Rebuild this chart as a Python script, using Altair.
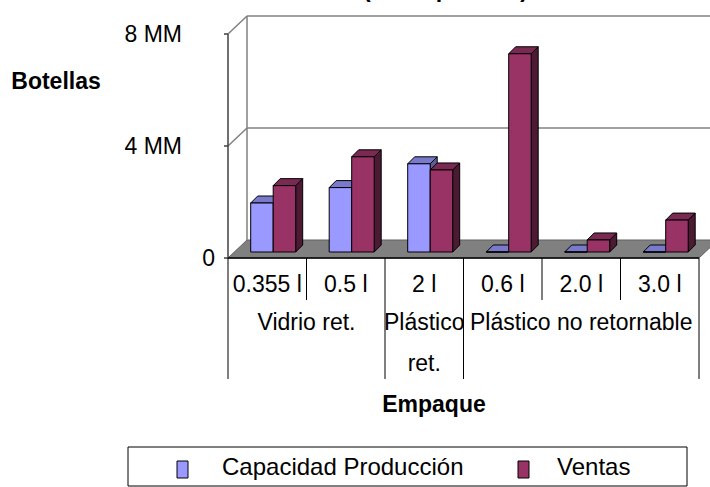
import altair as alt
import pandas as pd

# ---- data (millions of bottles) ----
sizes = ["0.355 l", "0.5 l", "2 l", "0.6 l", "2.0 l", "3.0 l"]
group_lines = [["Vidrio ret."], ["Plástico", "ret."], ["Plástico no retornable"]]
group_start = [0, 2, 3]
group_end = [2, 3, 6]
series = ["Capacidad Producción", "Ventas"]
capacidad = [1.75, 2.30, 3.15, 0.0, 0.0, 0.0]
ventas = [2.37, 3.40, 2.93, 7.08, 0.43, 1.14]
y_ticks = [0, 4, 8]
y_tick_labels = ["0", "4 MM", "8 MM"]

# ---- styling ----
FRONT = ["#9999FF", "#993366"]
TOP = ["#7A7ACC", "#7A2952"]
SIDE = ["#5C5C99", "#4D1A33"]
FONT = "Liberation Sans"
FS = 23

# ---- layout (pixels) ----
W, H = 710, 487
X0, Y0 = 228, 258          # front-left corner of the floor
PX_X, PX_Y = 78.5, 28.0    # px per category, px per million
WALL_DX, WALL_DY = 19, 18  # depth of the box
BAR_SHIFT = 6              # bars stand this far into the box
BAR_DEPTH = 7
BAR_W = 22.5
GROUP_PAD = 16.7


def ux(px):
    return px / PX_X


def uy(px):
    return px / PX_Y


xs = alt.Scale(domain=[-X0 / PX_X, (W - X0) / PX_X], nice=False, zero=False)
ys = alt.Scale(domain=[-(H - Y0) / PX_Y, Y0 / PX_Y], nice=False, zero=False)


def X(f):
    return alt.X(f, type="quantitative", scale=xs, axis=None, stack=None)


def X2(f):
    return alt.X2(f)


def Y(f):
    return alt.Y(f, type="quantitative", scale=ys, axis=None, stack=None)


def Y2(f):
    return alt.Y2(f)


n = len(sizes)
wx, wy = ux(WALL_DX), uy(WALL_DY)

# ---- bar geometry tables ----
front_rows, top_rows, side_rows = [], [], []
for s, vals in enumerate([capacidad, ventas]):
    for i, v in enumerate(vals):
        bid = f"{s}-{i}"
        x0 = i + ux(BAR_SHIFT + GROUP_PAD) + s * ux(BAR_W)
        x1 = x0 + ux(BAR_W)
        yb = uy(BAR_SHIFT)
        yt = yb + v
        dx, dy = ux(BAR_DEPTH), uy(BAR_DEPTH)
        front_rows.append(dict(s=s, id=bid, x0=x0, x1=x1, yb=yb, yt=yt))
        top_rows += [dict(s=s, id=bid, y=yt, xa=x0, xb=x1),
                     dict(s=s, id=bid, y=yt + dy, xa=x0 + dx, xb=x1 + dx)]
        side_rows += [dict(s=s, id=bid, x=x1, ya=yt, yb=yb),
                      dict(s=s, id=bid, x=x1 + dx, ya=yt + dy, yb=yb + dy)]
front_df = pd.DataFrame(front_rows)
top_df = pd.DataFrame(top_rows)
side_df = pd.DataFrame(side_rows)

layers = []

# floor
floor_df = pd.DataFrame([dict(y=0, xa=0, xb=n), dict(y=wy, xa=wx, xb=n + wx)])
layers.append(alt.Chart(floor_df).mark_area(orient="horizontal", fill="#808080",
                                            stroke="#606060", strokeWidth=1)
              .encode(y=Y("y"), x=X("xa"), x2=X2("xb")))

# back wall and gridlines
seg = []
for t in y_ticks:
    if t > 0:
        seg.append(dict(xa=wx, xb=(W - X0) / PX_X + 1, ya=t + wy, yb=t + wy))
        seg.append(dict(xa=0, xb=wx, ya=t, yb=t + wy))
seg.append(dict(xa=wx, xb=wx, ya=wy, yb=max(y_ticks) + wy))
layers.append(alt.Chart(pd.DataFrame(seg)).mark_rule(color="#808080", strokeWidth=1.5)
              .encode(x=X("xa"), x2=X2("xb"), y=Y("ya"), y2=Y2("yb")))

# value axis line and ticks
layers.append(alt.Chart(pd.DataFrame([dict(a=0, b=max(y_ticks))])).mark_rule(color="#404040", strokeWidth=1.5)
              .encode(x=X("a"), y=Y("a"), y2=Y2("b")))
layers.append(alt.Chart(pd.DataFrame(dict(t=y_ticks))).mark_rule(color="#404040", strokeWidth=1.5)
              .encode(x=X("t0:Q"), x2=X2("t1:Q"), y=Y("t"))
              .transform_calculate(t0=str(-ux(4)), t1="0"))

# bars: back faces first, blue series before red
for s in range(2):
    layers.append(alt.Chart(side_df).transform_filter(f"datum.s == {s}")
                  .mark_area(orient="vertical", fill=SIDE[s], stroke="black", strokeWidth=1)
                  .encode(x=X("x"), y=Y("ya"), y2=Y2("yb"), detail="id:N"))
    layers.append(alt.Chart(top_df).transform_filter(f"datum.s == {s}")
                  .mark_area(orient="horizontal", fill=TOP[s], stroke="black", strokeWidth=1)
                  .encode(y=Y("y"), x=X("xa"), x2=X2("xb"), detail="id:N"))
    layers.append(alt.Chart(front_df).transform_filter(f"datum.s == {s}")
                  .mark_rect(fill=FRONT[s], stroke="black", strokeWidth=1)
                  .encode(x=X("x0"), x2=X2("x1"), y=Y("yb"), y2=Y2("yt")))

# category axis line and dividers
ROW1_BOTTOM = -uy(300 - Y0)
ROW2_BOTTOM = -uy(379 - Y0)
long_div = sorted(set(group_start + group_end))
div_df = pd.DataFrame([dict(u=k, ya=0, yb=ROW2_BOTTOM if k in long_div else ROW1_BOTTOM)
                       for k in range(n + 1)])
layers.append(alt.Chart(pd.DataFrame([dict(a=0, b=n, y=0)])).mark_rule(color="black", strokeWidth=1.5)
              .encode(x=X("a"), x2=X2("b"), y=Y("y")))
layers.append(alt.Chart(div_df).mark_rule(color="black", strokeWidth=1)
              .encode(x=X("u"), y=Y("ya"), y2=Y2("yb")))

# category labels
cat_df = pd.DataFrame(dict(label=sizes, c=[i + 0.5 for i in range(n)]))
layers.append(alt.Chart(cat_df).mark_text(font=FONT, fontSize=FS, align="center", baseline="alphabetic")
              .encode(x=X("c"), y=alt.value(292), text="label:N"))
grp_df = pd.DataFrame(dict(label=group_lines,
                           c=[(a + b) / 2 for a, b in zip(group_start, group_end)]))
layers.append(alt.Chart(grp_df).mark_text(font=FONT, fontSize=FS, align="center",
                                          baseline="alphabetic", lineHeight=41)
              .encode(x=X("c"), y=alt.value(330), text="label"))

# value labels
tick_df = pd.DataFrame(dict(t=y_ticks, label=y_tick_labels))
layers.append(alt.Chart(tick_df).transform_filter("datum.t > 0")
              .mark_text(font=FONT, fontSize=FS, align="right", baseline="alphabetic", dy=8)
              .encode(x=alt.value(182), y=Y("t"), text="label:N"))
layers.append(alt.Chart(tick_df).transform_filter("datum.t == 0")
              .mark_text(font=FONT, fontSize=FS, align="right", baseline="alphabetic", dy=8)
              .encode(x=alt.value(215), y=Y("t"), text="label:N"))

# titles
one = pd.DataFrame([dict(a=0)])
layers.append(alt.Chart(one).mark_text(text="Botellas", font=FONT, fontSize=FS, fontWeight="bold",
                                       align="center", baseline="alphabetic")
              .encode(x=alt.value(56), y=alt.value(89)))
layers.append(alt.Chart(one).mark_text(text="Empaque", font=FONT, fontSize=FS, fontWeight="bold",
                                       align="center", baseline="alphabetic")
              .encode(x=alt.value(434), y=alt.value(412)))
layers.append(alt.Chart(one).mark_text(text="(miles por año)", font=FONT, fontSize=FS, fontWeight="bold",
                                       align="left", baseline="alphabetic")
              .encode(x=alt.value(363), y=alt.value(-3)))

# legend
layers.append(alt.Chart(one).mark_rect(fill="white", stroke="black", strokeWidth=1)
              .encode(x=alt.value(128), x2=alt.value(687), y=alt.value(447), y2=alt.value(486)))
leg_df = pd.DataFrame(dict(name=series, color=FRONT, k=[0, 1]))
leg = alt.Chart(leg_df).transform_calculate(
    sx="177 + datum.k * 341", tx="222 + datum.k * 335")
layers.append(leg.mark_rect(stroke="black", strokeWidth=1)
              .encode(x=alt.X("sx:Q", scale=None), x2=alt.X2("sx2:Q"),
                      y=alt.value(461), y2=alt.value(478),
                      fill=alt.Fill("color:N", scale=None))
              .transform_calculate(sx2="datum.sx + 11"))
layers.append(leg.mark_text(font=FONT, fontSize=24, align="left", baseline="alphabetic")
              .encode(x=alt.X("tx:Q", scale=None), y=alt.value(475), text="name:N"))

chart = alt.layer(*layers).properties(
    width=W, height=H, padding=0,
    autosize=alt.AutoSizeParams(type="none"),
).configure_view(strokeWidth=0)

chart.save("out.html", embed_options={"renderer": "svg", "actions": False})
